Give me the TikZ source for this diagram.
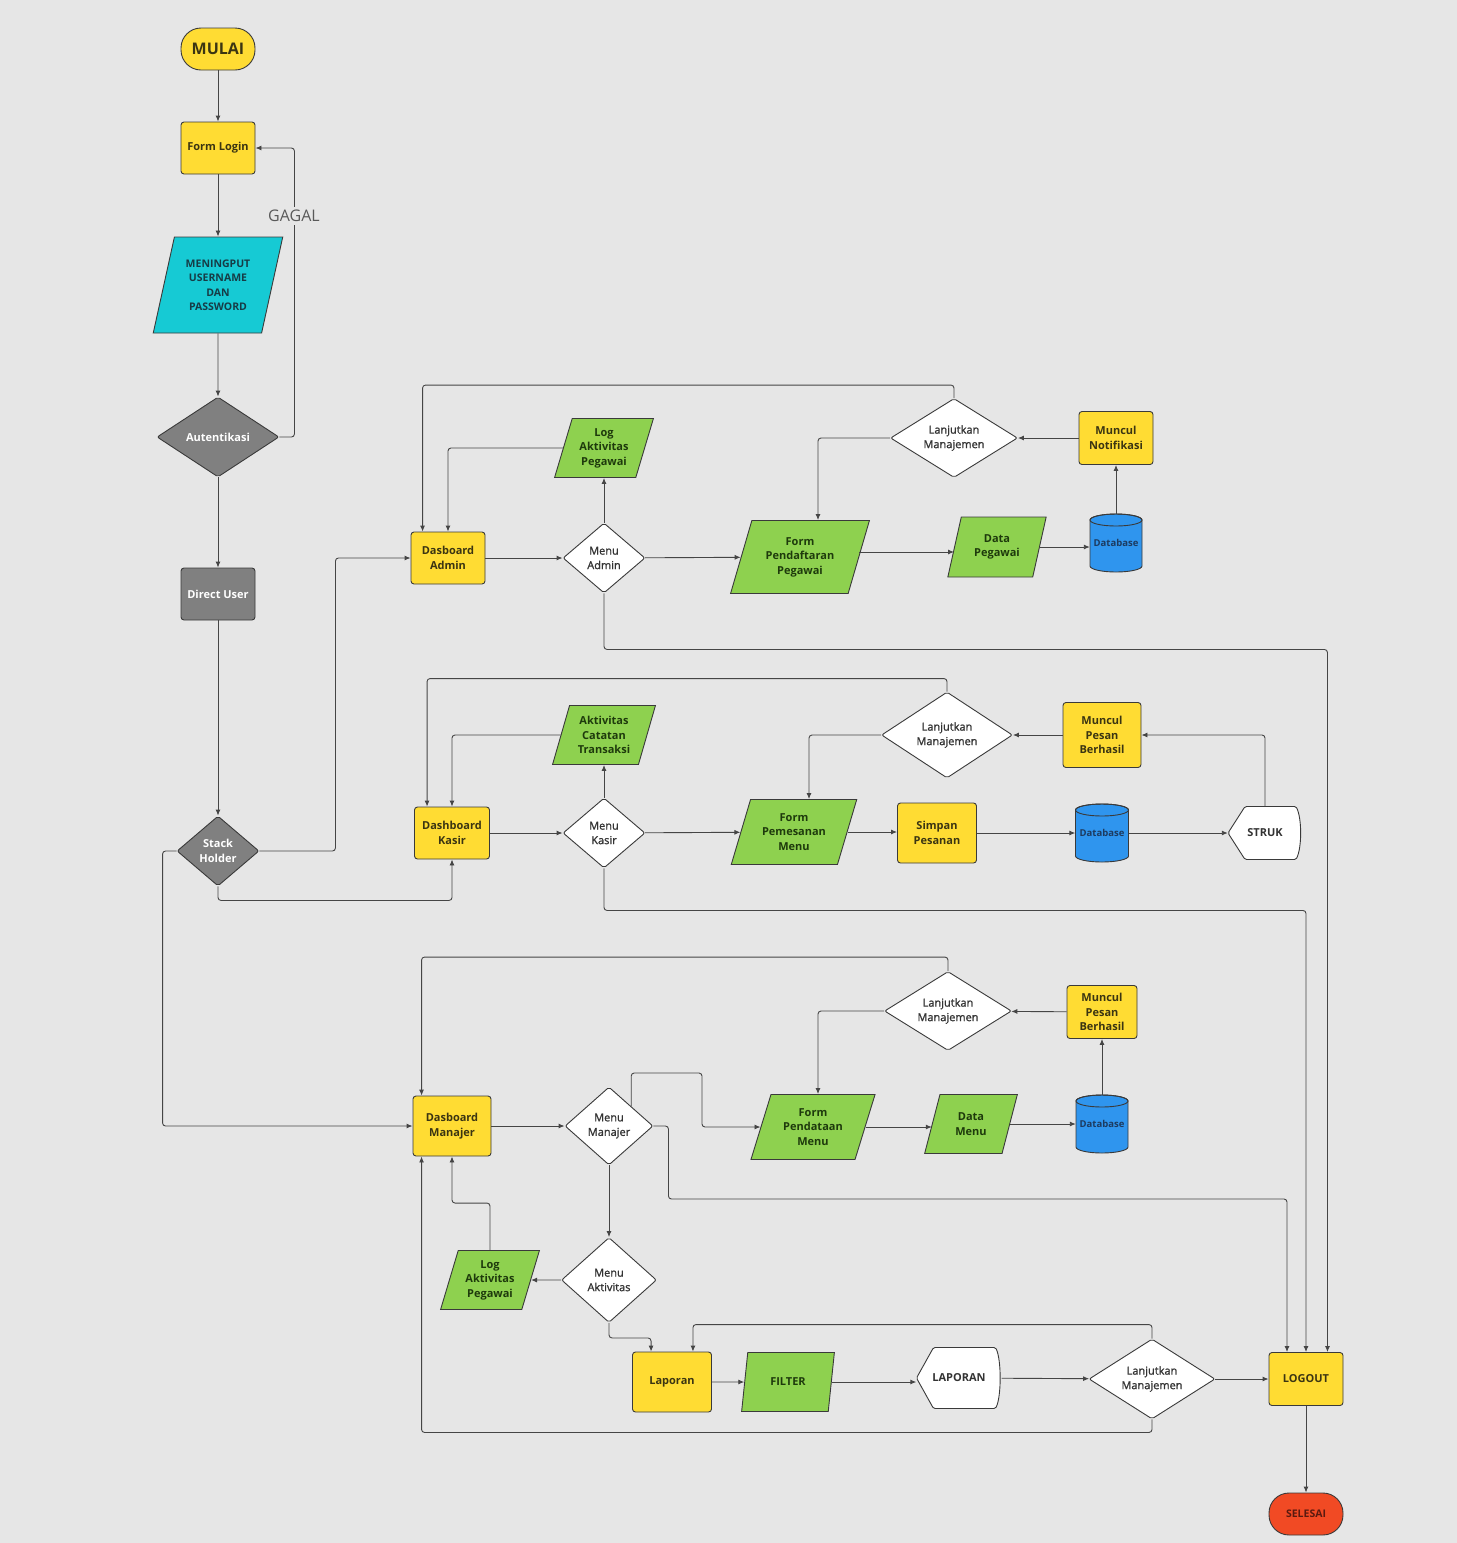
\documentclass[tikz,border=0pt]{standalone}
\usepackage{fontspec}
\setmainfont{Open Sans}
\newfontfamily\midfont{Open Sans}[FakeBold=1.3]
\usetikzlibrary{shapes.geometric,arrows.meta,calc}

\definecolor{bgc}{HTML}{E6E6E6}
\definecolor{ylw}{HTML}{FFDC33}
\definecolor{grn}{HTML}{8ED14F}
\definecolor{cyn}{HTML}{16CAD4}
\definecolor{gry}{HTML}{808080}
\definecolor{dbb}{HTML}{2F95EE}
\definecolor{redc}{HTML}{F14A24}
\definecolor{edge}{HTML}{3A3A3A}
\definecolor{lnc}{HTML}{454545}
\definecolor{txty}{HTML}{3B3512}
\definecolor{txtg}{HTML}{1E3A0C}
\definecolor{txtw}{HTML}{333333}
\definecolor{txtc}{HTML}{163C46}
\definecolor{txtd}{HTML}{1D3B60}
\definecolor{txtr}{HTML}{5A1A10}

\tikzset{
  sz/.style 2 args={minimum width=#1pt, minimum height=#2pt},
  lbl/.style={align=center, inner sep=0pt, font=\bfseries\fontsize{11}{14.5}\selectfont},
  procbox/.style={lbl, rectangle, draw=edge, line width=0.9pt, rounded corners=3pt, fill=ylw, text=txty},
  greybox/.style={procbox, fill=gry, text=white},
  pill/.style={procbox, rounded corners=20pt},
  decide/.style={lbl, diamond, aspect=1.8, draw=edge, line width=0.9pt, fill=white, rounded corners=2pt,
    text=txtw, font=\midfont\fontsize{11}{14.5}\selectfont},
  greydec/.style={decide, fill=gry, text=white, font=\bfseries\fontsize{11}{14.5}\selectfont},
  iobox/.style={lbl, trapezium, trapezium stretches=true, trapezium left angle=#1,
    trapezium right angle={180-#1}, draw=edge, line width=0.9pt, fill=grn, text=txtg},
  iobox/.default=71,
  dispnode/.style={lbl, rectangle, text=txtw},
  dbnode/.style={lbl, rectangle, text=txtd, font=\bfseries\fontsize{9.5}{11}\selectfont},
  shapeline/.style={draw=edge, line width=0.9pt},
  arr/.style={draw=lnc, line width=0.9pt, rounded corners=3pt, -{Latex[length=6pt,width=5pt]}},
}

% display symbol: centre x, centre y, half width, half height
\newcommand\dispshape[4]{%
  \draw[shapeline, fill=white, rounded corners=1.5pt]
    (#1-#3,#2) -- (#1-#3+17,#2-#4) -- (#1+#3-6,#2-#4)
    .. controls (#1+#3,#2-#4+12) and (#1+#3,#2+#4-12) .. (#1+#3-6,#2+#4)
    -- (#1-#3+17,#2+#4) -- cycle;}
% database cylinder: centre x, centre y, half width, half height
\newcommand\dbshape[4]{%
  \draw[shapeline, fill=dbb]
    (#1-#3,#2-#4+6) -- (#1-#3,#2+#4-6)
    arc[start angle=180, end angle=360, x radius=#3pt, y radius=6pt]
    -- (#1+#3,#2-#4+6)
    arc[start angle=0, end angle=180, x radius=#3pt, y radius=6pt] -- cycle;
  \draw[shapeline] (#1,#2-#4+6) ellipse[x radius=#3pt, y radius=6pt];}

\begin{document}
\begin{tikzpicture}[x=1pt, y=-1pt]
\path[use as bounding box, fill=bgc] (0,0) rectangle (1457,1543);

% ---------- login column ----------
\node[pill, sz={74}{42}, font=\bfseries\fontsize{16}{18}\selectfont] (mulai) at (218,49) {MULAI};
\node[procbox, sz={74}{52}] (login) at (218,148) {Form Login};
\node[iobox=73, sz={130}{96}, fill=cyn, text=txtc, font=\bfseries\fontsize{10.5}{14.5}\selectfont]
  (input) at (218,285) {MENINGPUT\\USERNAME\\DAN\\PASSWORD};
\node[greydec, sz={122}{80}] (auth) at (218,437) {Autentikasi};
\node[greybox, sz={74}{52}] (direct) at (218,594) {Direct User};
\node[greydec, sz={82}{70}] (stack) at (218,851) {Stack\\Holder};

% ---------- admin ----------
\node[procbox, sz={74}{52}] (dadmin) at (448,558) {Dasboard\\Admin};
\node[decide, sz={82}{70}] (madmin) at (604,558) {Menu\\Admin};
\node[iobox, sz={99}{59}] (logadm) at (604,448) {Log\\Aktivitas\\Pegawai};
\node[iobox=69, sz={139}{73}] (fpeg) at (800,557) {Form\\Pendaftaran\\Pegawai};
\node[iobox, sz={99}{60}] (dpeg) at (997,547) {Data\\Pegawai};
\dbshape{1116}{543}{26}{29}
\node[dbnode, sz={52}{58}] (db1) at (1116,543) {Database};
\node[procbox, sz={74}{53}] (notif) at (1116,438) {Muncul\\Notifikasi};
\node[decide, sz={127}{79}] (lanj1) at (954,438) {Lanjutkan\\Manajemen};

% ---------- kasir ----------
\node[procbox, sz={75}{52}] (dkasir) at (452,833) {Dashboard\\Kasir};
\node[decide, sz={82}{70}] (mkasir) at (604,833) {Menu\\Kasir};
\node[iobox, sz={103}{59}] (aktk) at (604,735) {Aktivitas\\Catatan\\Transaksi};
\node[iobox=69, sz={126}{65}] (fpesan) at (794,832) {Form\\Pemesanan\\Menu};
\node[procbox, sz={79}{60}] (simpan) at (937,833) {Simpan\\Pesanan};
\dbshape{1102}{833}{26.5}{29}
\node[dbnode, sz={53}{58}] (db2) at (1102,833) {Database};
\dispshape{1265}{833}{37}{26.5}
\node[dispnode, sz={74}{53}] (struk) at (1265,833) {STRUK};
\node[procbox, sz={78}{65}] (pesan2) at (1102,735) {Muncul\\Pesan\\Berhasil};
\node[decide, sz={131}{86}] (lanj2) at (947,735) {Lanjutkan\\Manajemen};

% ---------- manajer ----------
\node[procbox, sz={78}{60}] (dmanajer) at (452,1126) {Dasboard\\Manajer};
\node[decide, sz={88}{78}] (mmanajer) at (609,1126) {Menu\\Manajer};
\node[iobox=69, sz={125}{65}] (fpdt) at (813,1127) {Form\\Pendataan\\Menu};
\node[iobox, sz={93}{59}] (dmenu) at (971,1124) {Data\\Menu};
\dbshape{1102}{1124}{26}{29}
\node[dbnode, sz={52}{58}] (db3) at (1102,1124) {Database};
\node[procbox, sz={70}{53}] (pesan3) at (1102,1012) {Muncul\\Pesan\\Berhasil};
\node[decide, sz={127}{79}] (lanj3) at (948,1011) {Lanjutkan\\Manajemen};
\node[decide, sz={95}{85}] (maktiv) at (609,1280) {Menu\\Aktivitas};
\node[iobox, sz={99}{59}] (logmgr) at (490,1280) {Log\\Aktivitas\\Pegawai};
\node[procbox, sz={79}{60}] (laporan) at (672,1382) {Laporan};
\node[iobox, sz={93}{59}] (filter) at (788,1382) {FILTER};
\dispshape{959}{1378}{42.5}{30.5}
\node[dispnode, sz={85}{61}] (lapout) at (959,1378) {LAPORAN};
\node[decide, sz={126}{80}] (lanj4) at (1152,1379) {Lanjutkan\\Manajemen};
\node[procbox, sz={74}{53}] (logout) at (1306,1379) {LOGOUT};
\node[pill, sz={74}{42}, fill=redc, text=txtr, font=\bfseries\fontsize{10.5}{12}\selectfont]
  (selesai) at (1306,1514) {SELESAI};

% ---------- connectors: login column ----------
\draw[arr] (mulai) -- (login);
\draw[arr] (login) -- (input);
\draw[arr] (input) -- (auth);
\draw[arr] (auth.east) -- ++(15,0) coordinate (gg) -- (gg |- login.east) -- (login.east);
\node[fill=bgc, inner sep=3pt, text=black!65, font=\fontsize{16}{18}\selectfont] (gagal) at (294,216) {GAGAL};
\draw[arr] (auth) -- (direct);
\draw[arr] (direct) -- (stack);
\draw[arr] (stack.east) -- ++(76,0) |- (dadmin.west);
\draw[arr] (stack.south) -- ++(0,14) -| (dkasir.south);
\draw[arr] (stack.west) -- ++(-14,0) |- (dmanajer.west);

% ---------- connectors: admin ----------
\draw[arr] (dadmin) -- (madmin);
\draw[arr] (madmin) -- (logadm);
\draw[arr] (logadm.west) -| (dadmin.north);
\draw[arr] (madmin) -- (fpeg);
\draw[arr] ($(fpeg.east)+(0,-5)$) -- ($(fpeg.east -| dpeg.west)+(0,-5)$);
\draw[arr] (dpeg.east) -- (dpeg.east -| db1.west);
\draw[arr] (db1) -- (notif);
\draw[arr] (notif) -- (lanj1);
\draw[arr] (lanj1.west) -| ($(fpeg.north)+(18,0)$);
\draw[arr] (lanj1.north) -- ++(0,-13) -| ($(dadmin.north west)+(12,0)$);
\draw[arr] (madmin.south) -- ++(0,56) -| ($(logout.north east)+(-16,0)$);

% ---------- connectors: kasir ----------
\draw[arr] (dkasir) -- (mkasir);
\draw[arr] (mkasir) -- (aktk);
\draw[arr] (aktk.west) -| (dkasir.north);
\draw[arr] (mkasir) -- (fpesan);
\draw[arr] (fpesan.east) -- (fpesan.east -| simpan.west);
\draw[arr] (simpan) -- (db2);
\draw[arr] (db2) -- (struk);
\draw[arr] (struk.north) |- (pesan2.east);
\draw[arr] (pesan2) -- (lanj2);
\draw[arr] (lanj2.west) -| ($(fpesan.north)+(15,0)$);
\draw[arr] (lanj2.north) -- ++(0,-13) -| ($(dkasir.north west)+(13,0)$);
\draw[arr] (mkasir.south) -- ++(0,42) -| (logout.north);

% ---------- connectors: manajer ----------
\draw[arr] (dmanajer) -- (mmanajer);
\coordinate (mm1) at (702,1073);
\draw[arr] (mmanajer.north east) |- (mm1) |- (fpdt.west);
\coordinate (mm2) at (1287,1199);
\draw[arr] (mmanajer.east) -- ++(15,0) |- (mm2) -- (mm2 |- logout.north);
\draw[arr] (fpdt.east) -- (fpdt.east -| dmenu.west);
\draw[arr] (dmenu.east) -- (dmenu.east -| db3.west);
\draw[arr] (db3) -- (pesan3);
\draw[arr] (pesan3) -- (lanj3);
\draw[arr] (lanj3.west) -| ($(fpdt.north)+(5,0)$);
\draw[arr] (lanj3.north) -- ++(0,-14) -| ($(dmanajer.north west)+(9,0)$);
\draw[arr] (mmanajer) -- (maktiv);
\draw[arr] (maktiv) -- (logmgr);
\draw[arr] (logmgr.center |- logmgr.north) -- ++(0,-47) -| (dmanajer.south);
\draw[arr] (maktiv.south) -- ++(0,15) -| ($(laporan.north west)+(19,0)$);
\draw[arr] (laporan) -- (filter);
\draw[arr] (filter.east) -- (filter.east -| lapout.west);
\draw[arr] (lapout) -- (lanj4);
\draw[arr] (lanj4) -- (logout);
\draw[arr] (lanj4.north) -- ++(0,-14) -| ($(laporan.north east)+(-19,0)$);
\draw[arr] (lanj4.south) -- ++(0,13) -| ($(dmanajer.south west)+(9,0)$);
\draw[arr] (logout) -- (selesai);
\end{tikzpicture}
\end{document}
